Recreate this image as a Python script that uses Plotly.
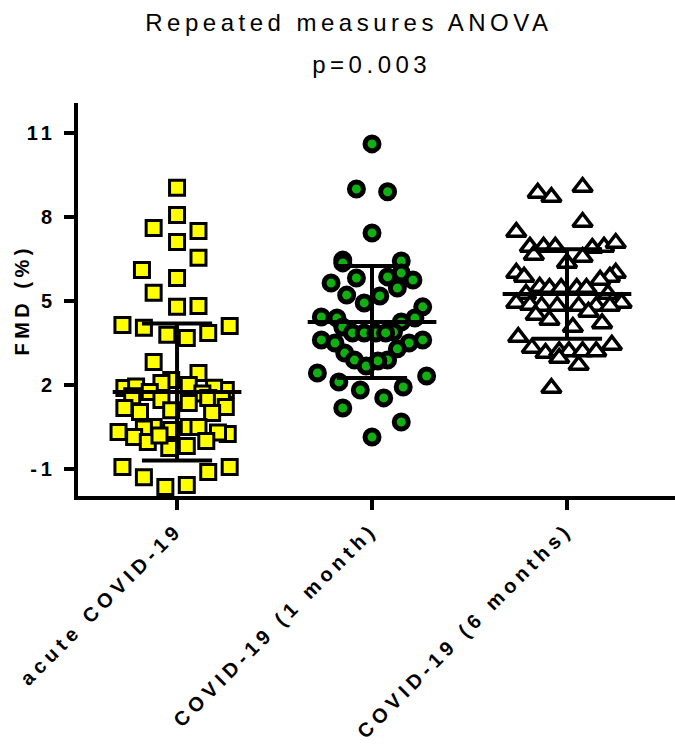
import plotly.graph_objects as go

# groups and tick labels
groups = ["acute COVID-19", "COVID-19 (1 month)", "COVID-19 (6 months)"]
y_ticks = [-1, 2, 5, 8, 11]

# FMD (%) values, with their horizontal scatter (in category units)
acute_fmd = [9.04, 8.07, 7.61, 7.5, 7.11, 6.54, 6.11, 5.82, 5.29, 4.79, 4.82, 4.14, 4.04, 4.11,
             3.79, 3.68, 3.86, 2.82, 2.43, 2.18, 2.07, 2.0, 1.89, 1.82, 1.95, 1.9, 1.75, 1.7,
             1.54, 1.46, 1.36, 1.6, 1.5, 1.18, 1.21, 1.04, 1.0, 1.1, 0.5, 0.5, 0.39, 0.5, 0.45,
             0.14, 0.25, 0.32, 0.3, 0.0, -0.04, -0.18, -0.25, 0.2, -0.93, -0.93, -1.29, -1.11,
             -1.64, -1.57]
acute_jit = [0, 0, -0.12, 0.11, 0, 0.11, -0.18, 0, -0.12, 0, 0.11, -0.28, -0.17, 0.27,
             -0.05, 0.05, 0.16, -0.12, 0.11, -0.03, -0.08, 0.06, -0.27, 0.25, -0.21, 0.19, -0.14, 0.13,
             0.16, -0.08, 0.06, -0.23, 0.23, -0.27, 0.25, -0.19, 0.18, -0.03, -0.12, 0.06, -0.03, 0.11, -0.17,
             -0.22, 0.26, -0.30, 0.21, 0.15, -0.15, 0.05, -0.04, -0.09, -0.28, 0.27, -0.17, 0.16,
             -0.06, 0.05]

month1_fmd = [10.61, 9.0, 8.9, 7.43, 6.46, 6.36, 6.43, 6.0, 5.82, 5.86, 5.75, 5.64, 5.21, 5.18,
              5.46, 4.93, 4.79, 4.43, 4.39, 4.39, 4.25, 4.07, 3.89, 3.86, 3.86, 3.86, 3.86, 3.61,
              3.5, 3.61, 3.5, 3.14, 3.29, 2.89, 2.89, 2.68, 2.86, 2.43, 2.32, 2.11, 1.82, 1.93,
              1.54, 1.18, 0.68, 0.14]
month1_jit = [0, -0.08, 0.08, 0, -0.15, -0.15, 0.15, 0.15, -0.08, 0.08, 0.21, -0.21, -0.13, 0.04,
              0.13, -0.04, 0.26, -0.26, -0.18, 0.22, 0.15, -0.15, 0.11, -0.10, -0.04, 0.02, 0.07, -0.26,
              -0.19, 0.26, 0.19, -0.14, 0.13, -0.09, 0.08, -0.03, 0.03, -0.28, 0.28, -0.17, -0.06, 0.16,
              0.06, -0.15, 0.15, 0]

month6_fmd = [9.07, 8.86, 8.71, 7.82, 7.46, 6.93, 6.93, 6.93, 6.93, 7.07, 6.89, 6.64, 6.36, 6.57,
              6.0, 5.86, 6.0, 5.86, 5.75, 5.5, 5.46, 5.46, 5.46, 5.46, 5.25, 5.25, 4.93, 4.93,
              4.86, 4.82, 4.82, 4.82, 4.82, 4.82, 4.5, 4.61, 4.32, 4.07, 4.2, 3.71, 3.43, 3.32,
              3.14, 3.2, 3.2, 3.2, 3.2, 2.96, 2.71, 1.89]
month6_jit = [0.08, -0.15, -0.08, 0.08, -0.26, -0.19, -0.12, -0.06, 0.19, 0.25, 0.13, -0.17, 0, 0.08,
              -0.26, -0.22, 0.25, 0.22, 0.17, -0.14, -0.09, -0.03, 0.05, 0.10, -0.21, 0.21, -0.26, 0.28,
              -0.19, -0.13, -0.05, 0.06, 0.15, 0.22, -0.16, 0.11, -0.09, 0.03, 0.18, -0.25, 0.23, -0.18,
              -0.11, -0.04, 0.01, 0.08, 0.15, -0.04, 0.06, -0.08]

# mean +/- SD as drawn
means = [1.75, 4.25, 5.25]
sds = [2.45, 2.0, 1.6]

FONT = "Arial, Liberation Sans, sans-serif"

fig = go.Figure()

series = [
    (acute_fmd, acute_jit, dict(symbol="square", size=15, color="#ffff00", line=dict(color="black", width=3))),
    (month1_fmd, month1_jit, dict(symbol="circle", size=14, color="#10b010", line=dict(color="black", width=5))),
    (month6_fmd, month6_jit, dict(symbol="triangle-up", size=17, color="white", line=dict(color="black", width=3.5))),
]
for i, (vals, jit, marker) in enumerate(series):
    fig.add_trace(go.Scatter(
        x=[i + j for j in jit],
        y=vals,
        mode="markers",
        marker=marker,
        showlegend=False,
        hoverinfo="y",
    ))

# mean line and SD whiskers
ex, ey = [], []
for i, (m, s) in enumerate(zip(means, sds)):
    ex += [i - 0.33, i + 0.33, None, i, i, None, i - 0.18, i + 0.18, None, i - 0.18, i + 0.18, None]
    ey += [m, m, None, m - s, m + s, None, m + s, m + s, None, m - s, m - s, None]
fig.add_trace(go.Scatter(x=ex, y=ey, mode="lines", line=dict(color="black", width=4),
                         showlegend=False, hoverinfo="skip"))

fig.update_layout(
    template="none",
    width=675, height=753,
    margin=dict(l=78, r=0, t=103, b=257),
    plot_bgcolor="white",
    paper_bgcolor="white",
    font=dict(family=FONT, color="black"),
    annotations=[
        dict(text="Repeated measures ANOVA", x=0.454, y=1.206, xref="paper", yref="paper",
             showarrow=False, font=dict(size=24, family=FONT), xanchor="center", yanchor="middle"),
        dict(text="p=0.003", x=0.492, y=1.097, xref="paper", yref="paper",
             showarrow=False, font=dict(size=24, family=FONT), xanchor="center", yanchor="middle"),
        dict(text="<b>FMD (%)</b>", x=-0.094, y=0.499, xref="paper", yref="paper", textangle=-90,
             showarrow=False, font=dict(size=20, family=FONT), xanchor="center", yanchor="middle"),
    ],
)

fig.update_xaxes(
    range=[-0.508, 2.554],
    tickvals=[0, 1, 2],
    ticktext=["<b>%s</b>" % g for g in groups],
    tickangle=-45,
    tickfont=dict(size=20, family=FONT, color="black"),
    showline=True, linecolor="black", linewidth=4,
    ticks="outside", ticklen=10, tickwidth=4, tickcolor="black",
    showgrid=False, zeroline=False, automargin=False,
)
fig.update_yaxes(
    range=[-1.964, 12.07],
    tickvals=y_ticks,
    ticktext=["<b>%d</b>" % t for t in y_ticks],
    tickfont=dict(size=20, family=FONT, color="black"),
    showline=True, linecolor="black", linewidth=4,
    ticks="outside", ticklen=10, tickwidth=4, tickcolor="black",
    ticklabelstandoff=4,
    showgrid=False, zeroline=False, automargin=False,
)

# the original is drawn with wide letter spacing; add it with css, and drop the page margin
css = ("body{margin:0;overflow:hidden}"
       ".xtick text{letter-spacing:5px}"
       ".ytick text{letter-spacing:4px}"
       ".annotation text{letter-spacing:4.5px}"
       ".annotation:nth-of-type(2) text{letter-spacing:7.5px}")
post = "var s=document.createElement('style');s.textContent='%s';document.head.appendChild(s);" % css

fig.write_html("out.html", post_script=post, config={"displayModeBar": False})
